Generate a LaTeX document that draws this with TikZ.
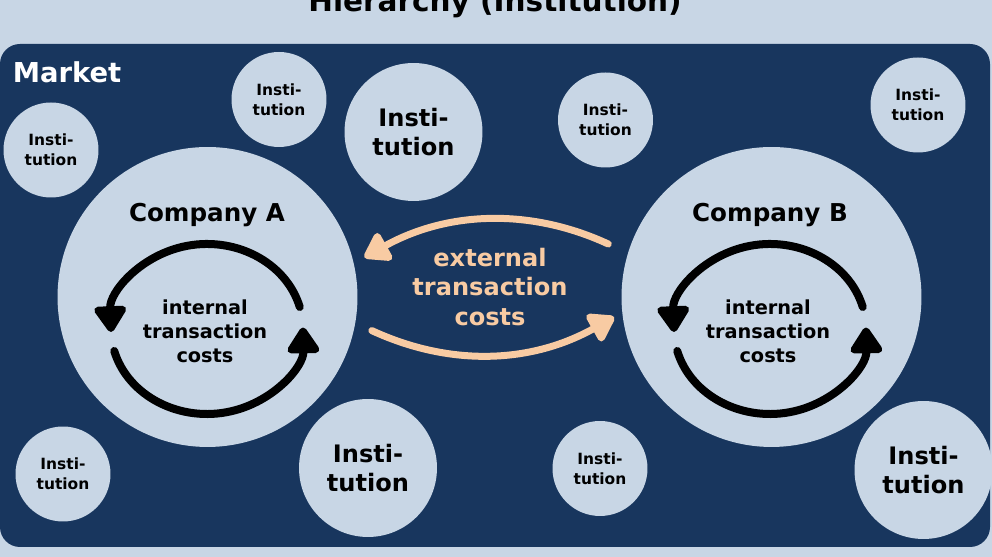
\documentclass[tikz,border=0pt]{standalone}
\usepackage{fontspec}
\setmainfont{DejaVu Sans}
\usetikzlibrary{arrows.meta}
\newlength{\smallinstsize}
\newlength{\biginstsize}
\newlength{\companysize}
\setlength{\smallinstsize}{1.9cm}
\setlength{\biginstsize}{2.76cm}
\setlength{\companysize}{6cm}
\definecolor{hierarchycolor}{RGB}{200,214,229}
\definecolor{marketcolor}{RGB}{24,54,94}
\definecolor{externalcolor}{RGB}{248,203,163}
\newcommand{\costcycle}[1]{
	\draw[intarrow] ([shift={(15:96 and 85)}]#1) arc[start angle=15, end angle=182, x radius=96, y radius=85];
	\draw[intarrow] ([shift={(195:96 and 85)}]#1) arc[start angle=195, end angle=361, x radius=96, y radius=85];
}
\tikzstyle{every node} = [inner sep=0]
\tikzstyle{circ} = [circle, fill=hierarchycolor, align=center, text=black]
\tikzstyle{smallinst} = [circ, minimum size=\smallinstsize, font=\bfseries\fontsize{8.8}{11.3}\selectfont]
\tikzstyle{biginst} = [circ, minimum size=\biginstsize, font=\bfseries\fontsize{13.7}{16.4}\selectfont]
\tikzstyle{company} = [circ, minimum size=\companysize]
\tikzstyle{companyname} = [font=\bfseries\fontsize{14}{16}\selectfont]
\tikzstyle{internaltext} = [align=center, font=\bfseries\fontsize{11}{13.6}\selectfont]
\tikzstyle{intarrow} = [black, line width=0.16cm, line cap=round, -{Triangle[length=0.58cm, width=0.72cm, round]}]
\tikzstyle{extarrow} = [externalcolor, line width=0.14cm, line cap=round, -{Triangle[length=0.56cm, width=0.7cm, round]}]

\begin{document}
\begin{tikzpicture}[x=0.02cm, y=0.02cm]
	
	% background: hierarchy and market
	\fill[hierarchycolor] (0,0) rectangle (992,557);
	\useasboundingbox (0,0) rectangle (992,557);
	\fill[marketcolor, rounded corners=0.4cm] (0,10) rectangle (990,513);
	
	\node[anchor=base, font=\bfseries\fontsize{16.8}{20}\selectfont] (hierarchy) at (495,545) {Hierarchy (Institution)};
	\node[text=white, font=\bfseries\fontsize{15.6}{18}\selectfont] (market) at (67,485) {Market};
	
	% institutions
	\node[smallinst] (inst1) at (51,407) {Insti-\\tution};
	\node[smallinst] (inst2) at (279,457.5) {Insti-\\tution};
	\node[biginst] (inst3) at (413.5,425) {Insti-\\tution};
	\node[smallinst] (inst4) at (605.5,437) {Insti-\\tution};
	\node[smallinst] (inst5) at (918,452) {Insti-\\tution};
	\node[smallinst] (inst6) at (63,83) {Insti-\\tution};
	\node[biginst] (inst7) at (368,89) {Insti-\\tution};
	\node[smallinst] (inst8) at (600,88.5) {Insti-\\tution};
	\node[biginst] (inst9) at (923.5,87) {Insti-\\tution};
	
	% companies
	\node[company] (compA) at (207.5,260) {};
	\node[company] (compB) at (771.5,260) {};
	\node[companyname] (compAname) at (207,342) {Company A};
	\node[companyname] (compBname) at (770,342) {Company B};
	
	\coordinate (cycA) at (207,228);
	\coordinate (cycB) at (770,228);
	\costcycle{cycA}
	\costcycle{cycB}
	\node[internaltext] (intA) at (205,226) {internal\\transaction\\costs};
	\node[internaltext] (intB) at (768,226) {internal\\transaction\\costs};
	
	% external transaction costs
	\draw[extarrow, shorten <=21.5*0.02cm, shorten >=12*0.02cm] (compB.163) to[bend right=27] (compA.13);
	\draw[extarrow, shorten <=18*0.02cm, shorten >=9*0.02cm] (compA.-10) to[bend right=27] (compB.186);
	\node[align=center, text=externalcolor, font=\bfseries\fontsize{13.7}{17}\selectfont] (ext) at (490,270) {external\\transaction\\costs};
	
\end{tikzpicture}
\end{document}
